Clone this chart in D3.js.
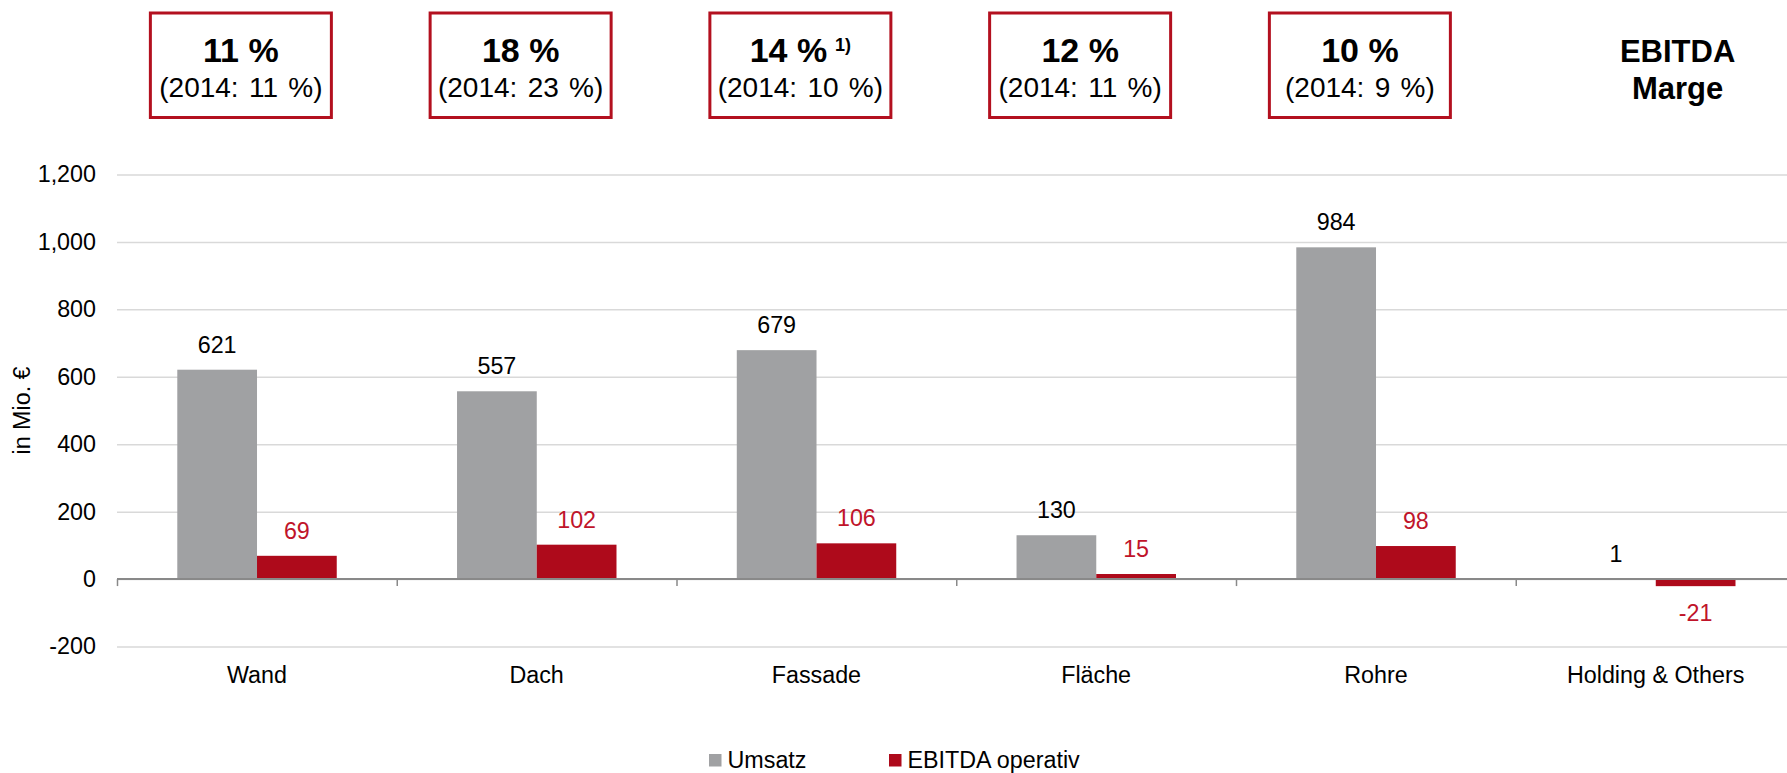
<!DOCTYPE html>
<html>
<head>
<meta charset="utf-8">
<script src="https://cdn.jsdelivr.net/npm/d3@7"></script>
<style>
  body { margin: 0; background: #fff; }
  svg { display: block; font-family: "Liberation Sans", Arial, sans-serif; }
</style>
</head>
<body>
<div id="chart"></div>
<script>
// data
var categories = ["Wand", "Dach", "Fassade", "Fläche", "Rohre", "Holding & Others"]
var umsatz = [621, 557, 679, 130, 984, 1]
var ebitda = [69, 102, 106, 15, 98, -21]
var seriesNames = ["Umsatz", "EBITDA operativ"]
var margins = ["11 %", "18 %", "14 %", "12 %", "10 %"]
var margins2014 = ["(2014: 11 %)", "(2014: 23 %)", "(2014: 10 %)", "(2014: 11 %)", "(2014: 9 %)"]
var marginNotes = ["", "", "1)", "", ""]
var yTicks = [-200, 0, 200, 400, 600, 800, 1000, 1200]

var grey = "#a0a1a3"
var red = "#ae0a1b"
var redText = "#c0142a"
var boxRed = "#b3101f"

var width = 1787
var height = 773
var left = 117
var bandW = 279.75

var fmt = d3.formatLocale({ decimal: ".", thousands: ",", grouping: [3], currency: ["", ""], minus: "-" }).format(",")

var svg = d3.select("#chart").append("svg")
    .attr("width", width)
    .attr("height", height)

// scales
var x = d3.scaleBand()
    .domain(categories)
    .range([left, left + bandW * categories.length])

var sub = d3.scaleBand()
    .domain(seriesNames)
    .range([0, x.bandwidth() * 0.57])

var groupOffset = x.bandwidth() * 0.2155

var y = d3.scaleLinear()
    .domain([-200, 1200])
    .range([646.5, 174.5])

// gridlines + y tick labels
var yAxis = svg.append("g")
    .attr("transform", "translate(" + left + ",0)")
    .call(d3.axisLeft(y)
        .tickValues(yTicks)
        .tickFormat(fmt)
        .tickSizeInner(-(width - left))
        .tickSizeOuter(0)
        .tickPadding(21))
yAxis.select(".domain").remove()
yAxis.selectAll(".tick line")
    .attr("stroke", "#d9d9d9")
    .attr("stroke-width", 1.5)
yAxis.selectAll(".tick text")
    .attr("fill", "#000")
    .style("font-size", "23.3px")

// y title
svg.append("text")
    .attr("transform", "translate(30," + (y(-200) + y(1200)) / 2 + ") rotate(-90)")
    .attr("text-anchor", "middle")
    .style("font-size", "23.3px")
    .text("in Mio. €")

// rows of bars
var rows = categories.map(function (c, i) {
    return { cat: c, values: [umsatz[i], ebitda[i]] }
})

var groups = svg.append("g").selectAll("g")
    .data(rows)
    .enter().append("g")
    .attr("transform", function (d) { return "translate(" + (x(d.cat) + groupOffset) + ",0)" })

groups.selectAll("rect")
    .data(function (d) { return d.values.map(function (v, j) { return { key: seriesNames[j], v: v } }) })
    .enter().append("rect")
    .attr("x", function (d) { return sub(d.key) })
    .attr("width", sub.bandwidth())
    .attr("y", function (d) { return y(Math.max(0, d.v)) })
    .attr("height", function (d) { return Math.abs(y(d.v) - y(0)) })
    .attr("fill", function (d) { return d.key === seriesNames[0] ? grey : red })

groups.selectAll("text")
    .data(function (d) { return d.values.map(function (v, j) { return { key: seriesNames[j], v: v } }) })
    .enter().append("text")
    .attr("x", function (d) { return sub(d.key) + sub.bandwidth() / 2 })
    .attr("y", function (d) { return d.v >= 0 ? y(d.v) - 17 : y(d.v) + 35 })
    .attr("text-anchor", "middle")
    .attr("fill", function (d) { return d.key === seriesNames[0] ? "#000" : redText })
    .style("font-size", "23.3px")
    .text(function (d) { return fmt(d.v) })

// zero line with ticks at the band edges
var xAxis = svg.append("g")
    .attr("transform", "translate(0," + y(0) + ")")
    .call(d3.axisBottom(x).tickSize(0).tickPadding(87.5))
xAxis.select(".domain").remove()
xAxis.selectAll(".tick text")
    .attr("fill", "#000")
    .style("font-size", "23.3px")

svg.append("line")
    .attr("x1", left).attr("x2", width)
    .attr("y1", y(0)).attr("y2", y(0))
    .attr("stroke", "#898989")
    .attr("stroke-width", 2)

svg.append("g").selectAll("line")
    .data(categories)
    .enter().append("line")
    .attr("x1", function (d) { return x(d) + 0.5 })
    .attr("x2", function (d) { return x(d) + 0.5 })
    .attr("y1", y(0))
    .attr("y2", y(0) + 7)
    .attr("stroke", "#898989")
    .attr("stroke-width", 1.5)

// margin boxes above the chart
var boxW = 184
var boxH = 107.5
var boxes = svg.append("g").selectAll("g")
    .data(margins)
    .enter().append("g")
    .attr("transform", function (d, i) {
        return "translate(" + (x(categories[i]) + x.bandwidth() / 2 - 16) + ",11.5)"
    })

boxes.append("rect")
    .attr("x", -boxW / 2 + 1.5)
    .attr("y", 1.5)
    .attr("width", boxW - 3)
    .attr("height", boxH - 3)
    .attr("fill", "#fff")
    .attr("stroke", boxRed)
    .attr("stroke-width", 3)

var line1 = boxes.append("text")
    .attr("y", 50.3)
    .attr("text-anchor", "middle")
    .style("font-weight", "bold")
    .style("font-size", "34px")
line1.append("tspan").text(function (d) { return d })
line1.append("tspan")
    .attr("dx", function (d, i) { return marginNotes[i] ? 8 : 0 })
    .attr("dy", -10.5)
    .style("font-size", "18px")
    .text(function (d, i) { return marginNotes[i] })

boxes.append("text")
    .attr("y", 85.5)
    .attr("text-anchor", "middle")
    .style("font-size", "28px")
    .style("word-spacing", "2.5px")
    .text(function (d, i) { return margins2014[i] })

var titleX = x(categories[5]) + x.bandwidth() / 2 + 22
var title = svg.append("text")
    .attr("text-anchor", "middle")
    .style("font-weight", "bold")
    .style("font-size", "31px")
title.append("tspan").attr("x", titleX).attr("y", 62).text("EBITDA")
title.append("tspan").attr("x", titleX).attr("y", 99).text("Marge")

// legend
var legend = svg.append("g").attr("transform", "translate(709,754)")
var items = legend.selectAll("g")
    .data(seriesNames)
    .enter().append("g")
    .attr("transform", function (d, i) { return "translate(" + (i * 180) + ",0)" })
items.append("rect")
    .attr("width", 12.5)
    .attr("height", 12.5)
    .attr("fill", function (d, i) { return i === 0 ? grey : red })
items.append("text")
    .attr("x", 18.5)
    .attr("y", 14.3)
    .style("font-size", "23.3px")
    .text(function (d) { return d })
</script>
</body>
</html>
